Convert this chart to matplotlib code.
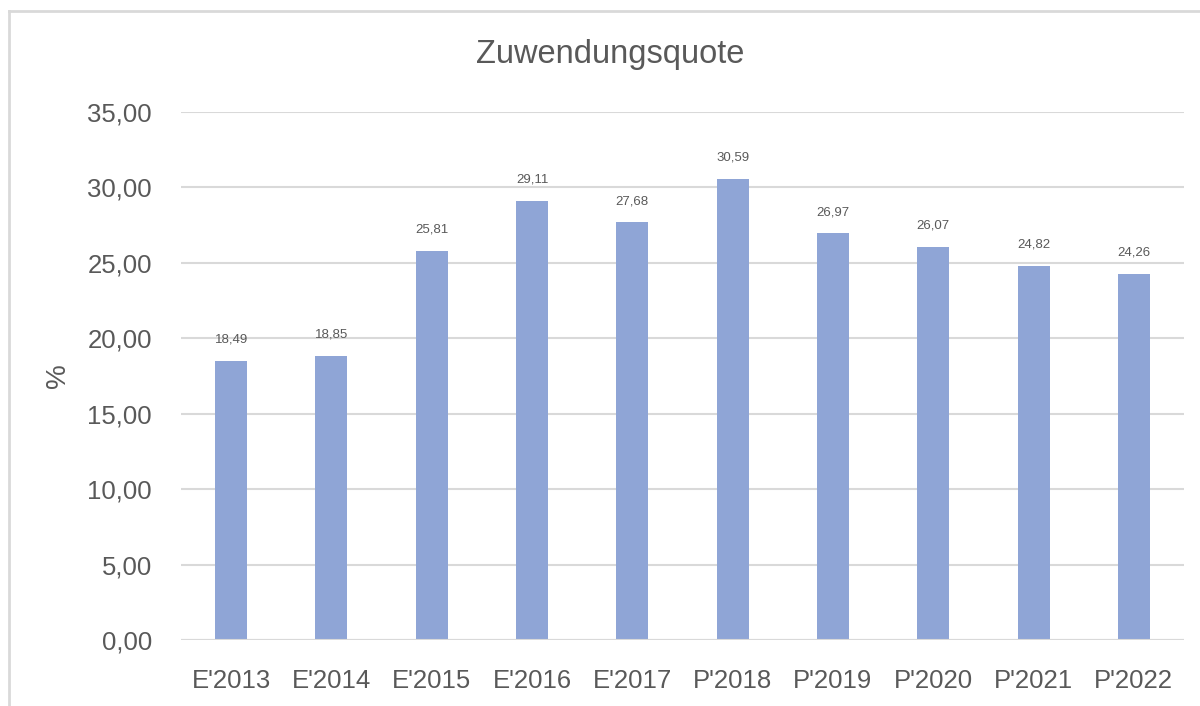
import matplotlib.pyplot as plt
from matplotlib.lines import Line2D

years = ["E'2013", "E'2014", "E'2015", "E'2016", "E'2017",
         "P'2018", "P'2019", "P'2020", "P'2021", "P'2022"]
quote = [18.49, 18.85, 25.81, 29.11, 27.68, 30.59, 26.97, 26.07, 24.82, 24.26]
yticks = [0, 5, 10, 15, 20, 25, 30, 35]

plt.rcParams['font.family'] = ['Liberation Sans', 'DejaVu Sans']
grey = '#595959'

fig = plt.figure(figsize=(12, 7.06), dpi=100)
ax = fig.add_axes([181 / 1200, 1 - 640 / 706, 1003 / 1200, 528 / 706])

x = range(len(years))
bars = ax.bar(x, quote, width=0.32, color='#8FA5D6', zorder=2)
for b, v in zip(bars, quote):
    ax.text(b.get_x() + b.get_width() / 2, v + 1.0, f"{v:.2f}".replace('.', ','),
            ha='center', va='bottom', fontsize=9.5, color=grey)

ax.set_xlim(-0.5, len(years) - 0.5)
ax.set_ylim(0, 35)
ax.set_yticks(yticks)
ax.set_yticklabels([f"{t:.2f}".replace('.', ',') for t in yticks])
ax.set_xticks(list(x))
ax.set_xticklabels(years)
ax.tick_params(axis='both', length=0, labelsize=18.5, colors=grey)
ax.tick_params(axis='y', pad=21)
ax.tick_params(axis='x', pad=21)
ax.yaxis.grid(True, color='#D9D9D9', linewidth=1.5, zorder=0)
for s in ax.spines.values():
    s.set_visible(False)
ax.axhline(0, color='#D9D9D9', linewidth=1.5, zorder=3)

ax.set_ylabel('%', fontsize=20, color=grey)
ax.yaxis.set_label_coords(-110 / 1003, 0.5)
fig.text(610 / 1200, 1 - 55 / 706, 'Zuwendungsquote', ha='center', va='center',
         fontsize=23.5, color=grey)

# chart border (cut off at right and bottom)
fig.add_artist(Line2D([9 / 1200, 9 / 1200], [0, 1 - 11 / 706], color='#D9D9D9', lw=2))
fig.add_artist(Line2D([9 / 1200, 1], [1 - 11 / 706, 1 - 11 / 706], color='#D9D9D9', lw=2))

fig.savefig('out.png', dpi=100)
